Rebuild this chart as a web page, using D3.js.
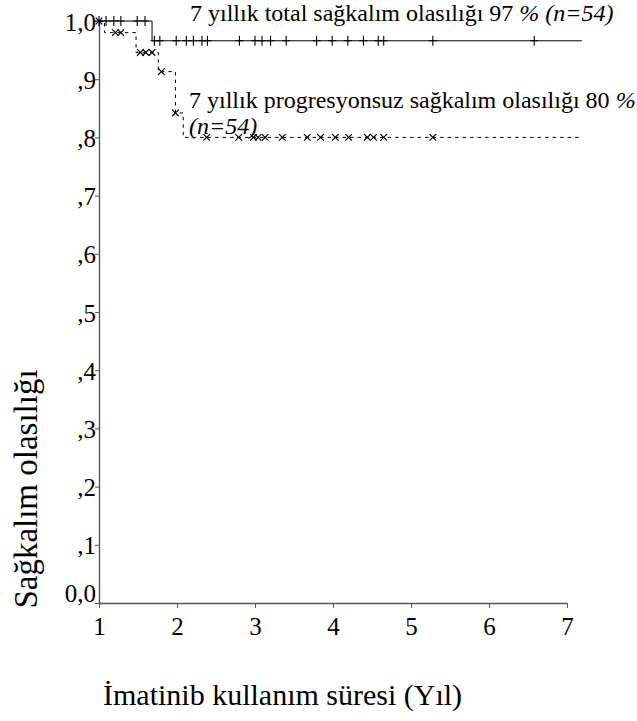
<!DOCTYPE html>
<html>
<head>
<meta charset="utf-8">
<script src="https://cdn.jsdelivr.net/npm/d3@7"></script>
</head>
<body style="margin:0; background:#fff">
<div id="chart"></div>
<script>
// genel sağkalım (OS): basamaklar ve sansür işaretleri
const osSteps = [
  { t: 1.00, s: 1.000 },
  { t: 1.68, s: 0.966 }
];
const osEnd = 7.19;
const osCensor = [1.00, 1.09, 1.19, 1.28, 1.49, 1.59,
  1.71, 1.78, 1.99, 2.12, 2.21, 2.32, 2.39, 2.80, 3.00, 3.09, 3.20, 3.40,
  3.79, 3.99, 4.19, 4.39, 4.58, 4.65, 5.28, 6.58];

// progresyonsuz sağkalım (PFS)
const pfsSteps = [
  { t: 1.00, s: 1.000 },
  { t: 1.07, s: 0.980 },
  { t: 1.475, s: 0.946 },
  { t: 1.76, s: 0.913 },
  { t: 1.98, s: 0.842 },
  { t: 2.08, s: 0.800 }
];
const pfsEnd = 7.18;
const pfsCensor = [1.00, 1.21, 1.28, 1.53, 1.60, 1.68, 1.80, 1.98,
  2.38, 2.79, 2.98, 3.04, 3.13, 3.35, 3.67, 3.84, 4.03, 4.20, 4.44, 4.52, 4.65, 5.28];

const xTicks = [1, 2, 3, 4, 5, 6, 7];
const yTicks = [0, 0.1, 0.2, 0.3, 0.4, 0.5, 0.6, 0.7, 0.8, 0.9, 1.0];

const serif = '"Liberation Serif"';

const margin = { top: 21, right: 70, bottom: 118, left: 99 };
const W = 637, H = 721;
const width = W - margin.left - margin.right;
const height = H - margin.top - margin.bottom;

const svg = d3.select('#chart').append('svg')
    .attr('width', W)
    .attr('height', H);

const g = svg.append('g')
    .attr('transform', `translate(${margin.left},${margin.top})`);

const x = d3.scaleLinear().domain([1, 7]).range([0, width]);
const y = d3.scaleLinear().domain([0, 1]).range([height, 0]);

// eksenler
const yAxis = g.append('g')
    .call(d3.axisLeft(y)
        .tickValues(yTicks)
        .tickSize(4)
        .tickSizeOuter(0)
        .tickFormat(d => d === 0 ? '0,0' : d === 1 ? '1,0' : ',' + Math.round(d * 10)));

const xAxis = g.append('g')
    .attr('transform', `translate(0,${height})`)
    .call(d3.axisBottom(x)
        .tickValues(xTicks)
        .tickSize(5)
        .tickSizeOuter(0)
        .tickFormat(d3.format('d')));

[yAxis, xAxis].forEach(a => {
    a.select('.domain').attr('stroke', '#555').attr('stroke-width', 1.4);
    a.selectAll('.tick line').attr('stroke', '#555');
    a.selectAll('.tick text')
        .style('font-family', serif)
        .style('font-size', '25px')
        .attr('fill', '#000');
});
yAxis.selectAll('.tick text').attr('x', -3).attr('dy', '0.36em');
yAxis.selectAll('.tick text').filter(d => d === 0).attr('dy', '-0.05em');
xAxis.selectAll('.tick text').attr('y', 14);

// basamak çizgisi
function stepPath(steps, end) {
    const pts = [];
    steps.forEach((d, i) => {
        if (i > 0) pts.push([d.t, steps[i - 1].s]);
        pts.push([d.t, d.s]);
    });
    pts.push([end, steps[steps.length - 1].s]);
    return d3.line().x(p => x(p[0])).y(p => y(p[1]))(pts);
}

function survAt(steps, t) {
    let s = steps[0].s;
    steps.forEach(d => { if (d.t <= t) s = d.s; });
    return s;
}

g.append('path')
    .attr('d', stepPath(osSteps, osEnd))
    .attr('fill', 'none')
    .attr('stroke', '#000')
    .attr('stroke-width', 1);

g.append('path')
    .attr('d', stepPath(pfsSteps, pfsEnd))
    .attr('fill', 'none')
    .attr('stroke', '#000')
    .attr('stroke-width', 1)
    .attr('stroke-dasharray', '3.5,4');

// sansür işaretleri
g.selectAll('.plus')
    .data(osCensor)
    .enter().append('path')
    .attr('class', 'plus')
    .attr('d', t => {
        const cx = x(t), cy = y(survAt(osSteps, t));
        return `M${cx - 4},${cy}H${cx + 4}M${cx},${cy - 5}V${cy + 5}`;
    })
    .attr('stroke', '#000')
    .attr('stroke-width', 1.1);

g.selectAll('.cross')
    .data(pfsCensor)
    .enter().append('path')
    .attr('class', 'cross')
    .attr('d', t => {
        const cx = x(t), cy = y(survAt(pfsSteps, t)), r = 3.3;
        return `M${cx - r},${cy - r}L${cx + r},${cy + r}M${cx - r},${cy + r}L${cx + r},${cy - r}`;
    })
    .attr('stroke', '#000')
    .attr('stroke-width', 1.2);

// açıklamalar
const t1 = svg.append('text')
    .attr('x', 190).attr('y', 21)
    .style('font-family', serif)
    .style('font-size', '24px');
t1.append('tspan').text('7 yıllık total sağkalım olasılığı 97 ');
t1.append('tspan').style('font-style', 'italic').text('% (n=54)');

const t2 = svg.append('text')
    .attr('x', 189).attr('y', 108)
    .style('font-family', serif)
    .style('font-size', '24px');
t2.append('tspan').text('7 yıllık progresyonsuz sağkalım olasılığı 80 ');
t2.append('tspan').style('font-style', 'italic').text('%');

svg.append('text')
    .attr('x', 189).attr('y', 134)
    .style('font-family', serif)
    .style('font-size', '24px')
    .style('font-style', 'italic')
    .text('(n=54)');

// eksen başlıkları
svg.append('text')
    .attr('transform', 'translate(37,489) rotate(-90)')
    .attr('text-anchor', 'middle')
    .style('font-family', serif)
    .style('font-size', '33px')
    .text('Sağkalım olasılığı');

svg.append('text')
    .attr('x', 103).attr('y', 705)
    .style('font-family', serif)
    .style('font-size', '30px')
    .text('İmatinib kullanım süresi (Yıl)');
</script>
</body>
</html>
